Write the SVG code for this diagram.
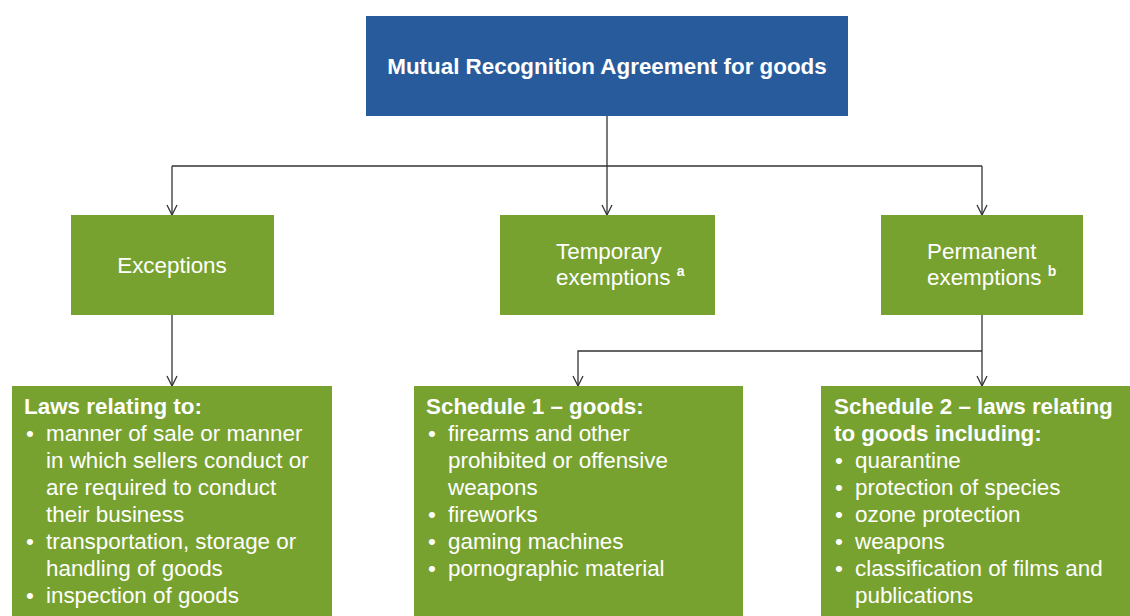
<svg xmlns="http://www.w3.org/2000/svg" width="1130" height="616" viewBox="0 0 1130 616">
<style>
.box{fill:#78A22F}
.top{fill:#285B9B}
.t{font-family:"Liberation Sans",Arial,sans-serif;font-size:22.4px;fill:#ffffff}
.b{font-weight:bold}
.sup{font-family:"Liberation Sans",Arial,sans-serif;font-size:14px;font-weight:bold;fill:#ffffff}
.ln{fill:none;stroke:#333333;stroke-width:1.3}
</style>
<defs>
<marker id="arr" markerWidth="12" markerHeight="12" refX="11" refY="6" orient="auto" markerUnits="userSpaceOnUse" viewBox="0 0 12 12">
<path d="M1,1 L11,6 L1,11" fill="none" stroke="#333333" stroke-width="1.3"/>
</marker>
</defs>
<rect width="1130" height="616" fill="#ffffff"/>
<g id="connectors">
<path class="ln" d="M607,116 V166"/>
<path class="ln" d="M172,166 H982"/>
<path class="ln" d="M172,166 V215" marker-end="url(#arr)"/>
<path class="ln" d="M607,166 V215" marker-end="url(#arr)"/>
<path class="ln" d="M982,166 V215" marker-end="url(#arr)"/>
<path class="ln" d="M172,315 V386" marker-end="url(#arr)"/>
<path class="ln" d="M982,315 V386" marker-end="url(#arr)"/>
<path class="ln" d="M982,351 H578 V386" marker-end="url(#arr)"/>
</g>
<g id="mra">
<rect class="top" x="366" y="16" width="482" height="100"/>
<text class="t b" x="607" y="74" text-anchor="middle">Mutual Recognition Agreement for goods</text>
</g>
<g id="exceptions">
<rect class="box" x="71" y="215" width="203" height="100"/>
<text class="t" x="172" y="273" text-anchor="middle">Exceptions</text>
</g>
<g id="temporary">
<rect class="box" x="500" y="215" width="215" height="100"/>
<text class="t" x="556" y="259">Temporary</text>
<text class="t" x="556" y="285">exemptions <tspan class="sup" dy="-9">a</tspan></text>
</g>
<g id="permanent">
<rect class="box" x="881" y="215" width="202" height="100"/>
<text class="t" x="927" y="259">Permanent</text>
<text class="t" x="927" y="285">exemptions <tspan class="sup" dy="-9">b</tspan></text>
</g>
<g id="laws">
<rect class="box" x="12" y="386" width="320" height="230"/>
<text class="t b" x="24" y="414">Laws relating to:</text>
<text class="t" x="26" y="441">•</text>
<text class="t" x="46" y="441">manner of sale or manner</text>
<text class="t" x="46" y="468">in which sellers conduct or</text>
<text class="t" x="46" y="495">are required to conduct</text>
<text class="t" x="46" y="522">their business</text>
<text class="t" x="26" y="549">•</text>
<text class="t" x="46" y="549">transportation, storage or</text>
<text class="t" x="46" y="576">handling of goods</text>
<text class="t" x="26" y="603">•</text>
<text class="t" x="46" y="603">inspection of goods</text>
</g>
<g id="schedule1">
<rect class="box" x="414" y="386" width="329" height="230"/>
<text class="t b" x="426" y="414">Schedule 1 – goods:</text>
<text class="t" x="428" y="441">•</text>
<text class="t" x="448" y="441">firearms and other</text>
<text class="t" x="448" y="468">prohibited or offensive</text>
<text class="t" x="448" y="495">weapons</text>
<text class="t" x="428" y="522">•</text>
<text class="t" x="448" y="522">fireworks</text>
<text class="t" x="428" y="549">•</text>
<text class="t" x="448" y="549">gaming machines</text>
<text class="t" x="428" y="576">•</text>
<text class="t" x="448" y="576">pornographic material</text>
</g>
<g id="schedule2">
<rect class="box" x="821" y="386" width="309" height="230"/>
<text class="t b" x="834" y="414">Schedule 2 – laws relating</text>
<text class="t b" x="834" y="441">to goods including:</text>
<text class="t" x="835" y="468">•</text>
<text class="t" x="855" y="468">quarantine</text>
<text class="t" x="835" y="495">•</text>
<text class="t" x="855" y="495">protection of species</text>
<text class="t" x="835" y="522">•</text>
<text class="t" x="855" y="522">ozone protection</text>
<text class="t" x="835" y="549">•</text>
<text class="t" x="855" y="549">weapons</text>
<text class="t" x="835" y="576">•</text>
<text class="t" x="855" y="576">classification of films and</text>
<text class="t" x="855" y="603">publications</text>
</g>
</svg>
